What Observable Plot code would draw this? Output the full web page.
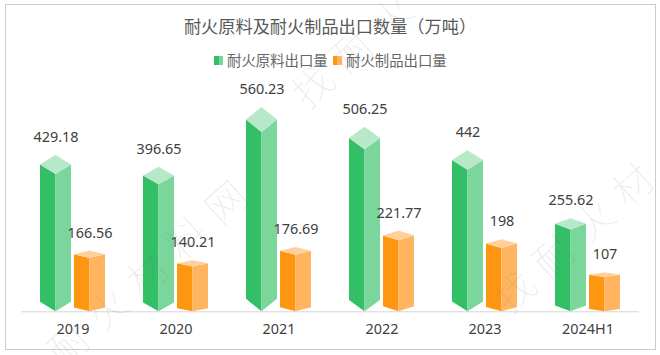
<!DOCTYPE html>
<html><head><meta charset="utf-8">
<style>
html,body{margin:0;padding:0;background:#fff}
#wrap{position:relative;width:660px;height:355px;overflow:hidden;font-family:"Noto Sans CJK SC","Noto Sans",sans-serif}
#frame{position:absolute;left:5px;top:4px;width:649px;height:344px;border:1.5px solid #cbcbcb}
.wm{position:absolute;z-index:5;font-size:40px;line-height:40px;font-weight:100;letter-spacing:13px;color:rgba(110,110,110,.14);white-space:nowrap;transform:rotate(-42deg);transform-origin:0 50%;pointer-events:none}
#head{position:relative;height:70px}
#title{position:absolute;left:0;right:0;top:14px;text-align:center;font-size:17.2px;line-height:24px;color:#595959}
.leg{position:absolute;top:49px;font-size:14.4px;line-height:22px;color:#666}
.sw{position:absolute;top:56px;width:9px;height:9px}
#chart{position:relative}
</style>
<script src="https://cdn.jsdelivr.net/npm/d3@7"></script>
<script src="https://cdn.jsdelivr.net/npm/@observablehq/plot@0.6"></script>
</head><body>
<div id="wrap">
<div class="wm" style="left:52px;top:336px">耐火材料网</div>
<div class="wm" style="left:296px;top:78px">找耐火</div>
<div class="wm" style="left:498px;top:283px">找耐火材</div>
<div id="frame"></div>
<div id="head">
<div id="title">耐火原料及耐火制品出口数量（万吨）</div>
<div class="sw" style="left:214px;background:linear-gradient(90deg,#32bf66 50%,#7ad69a 50%)"></div>
<div class="leg" style="left:227px">耐火原料出口量</div>
<div class="sw" style="left:333px;background:linear-gradient(90deg,#ff9612 50%,#ffb55f 50%)"></div>
<div class="leg" style="left:346px">耐火制品出口量</div>
</div>
<div id="chart"></div>
</div>
<script>
const years = ["2019","2020","2021","2022","2023","2024H1"];
const rawName = "耐火原料出口量";
const productName = "耐火制品出口量";
const rawValues = [429.18,396.65,560.23,506.25,442,255.62];
const productValues = [166.56,140.21,176.69,221.77,198,107];
const rawColors = ["#32bf66","#7ad69a","#b7e8c8"];
const productColors = ["#ff9612","#ffb55f","#ffd09a"];
const rows = years.flatMap((year,i)=>[
  {year,series:rawName,value:rawValues[i]},
  {year,series:productName,value:productValues[i]}
]);
const prism = ([left,right,top]) => (index, scales, values) => {
  const g = d3.create("svg:g");
  const w = scales.x.bandwidth();
  for (const i of index) {
    const x0 = values.x[i], xc = x0 + w/2, x1 = x0 + w;
    const base = values.y1[i], tip = values.y2[i];
    const h = 0.061*(base-tip);
    const face = (pts,fill)=>g.append("polygon").attr("points",pts.map(p=>p.join(",")).join(" ")).attr("fill",fill);
    face([[x0,tip+h],[xc,tip+2*h],[xc,base],[x0,base-h]],left);
    face([[xc,tip+2*h],[x1,tip+h],[x1,base-h],[xc,base]],right);
    face([[xc,tip],[x1,tip+h],[xc,tip+2*h],[x0,tip+h]],top);
  }
  return g.node();
};
const bars = (name,colors)=>Plot.barY(rows.filter(d=>d.series===name),{fx:"year",x:"series",y:"value",render:prism(colors)});
const plot = Plot.plot({
  width:660,height:285,
  marginLeft:20,marginRight:20,marginTop:22.6,marginBottom:43.7,
  style:{background:"transparent",fontFamily:'"Noto Sans","Noto Sans CJK SC",sans-serif'},
  fx:{domain:years,padding:0,label:null},
  x:{domain:[rawName,productName],paddingInner:0.075,paddingOuter:0.543,axis:null,label:null},
  y:{domain:[0,600],axis:null},
  marks:[
    Plot.ruleY([0],{stroke:"#d4d4d4",strokeWidth:1}),
    bars(rawName,rawColors),
    bars(productName,productColors),
    Plot.text(rows,{fx:"year",x:"series",y:"value",text:d=>String(d.value),dy:-18,fontSize:14.4,fill:"#404040"}),
    Plot.axisFx({anchor:"bottom",tickSize:0,tickPadding:12,fontSize:14.4,color:"#404040",label:null})
  ]
});
document.getElementById("chart").appendChild(plot);
</script>
</body></html>
